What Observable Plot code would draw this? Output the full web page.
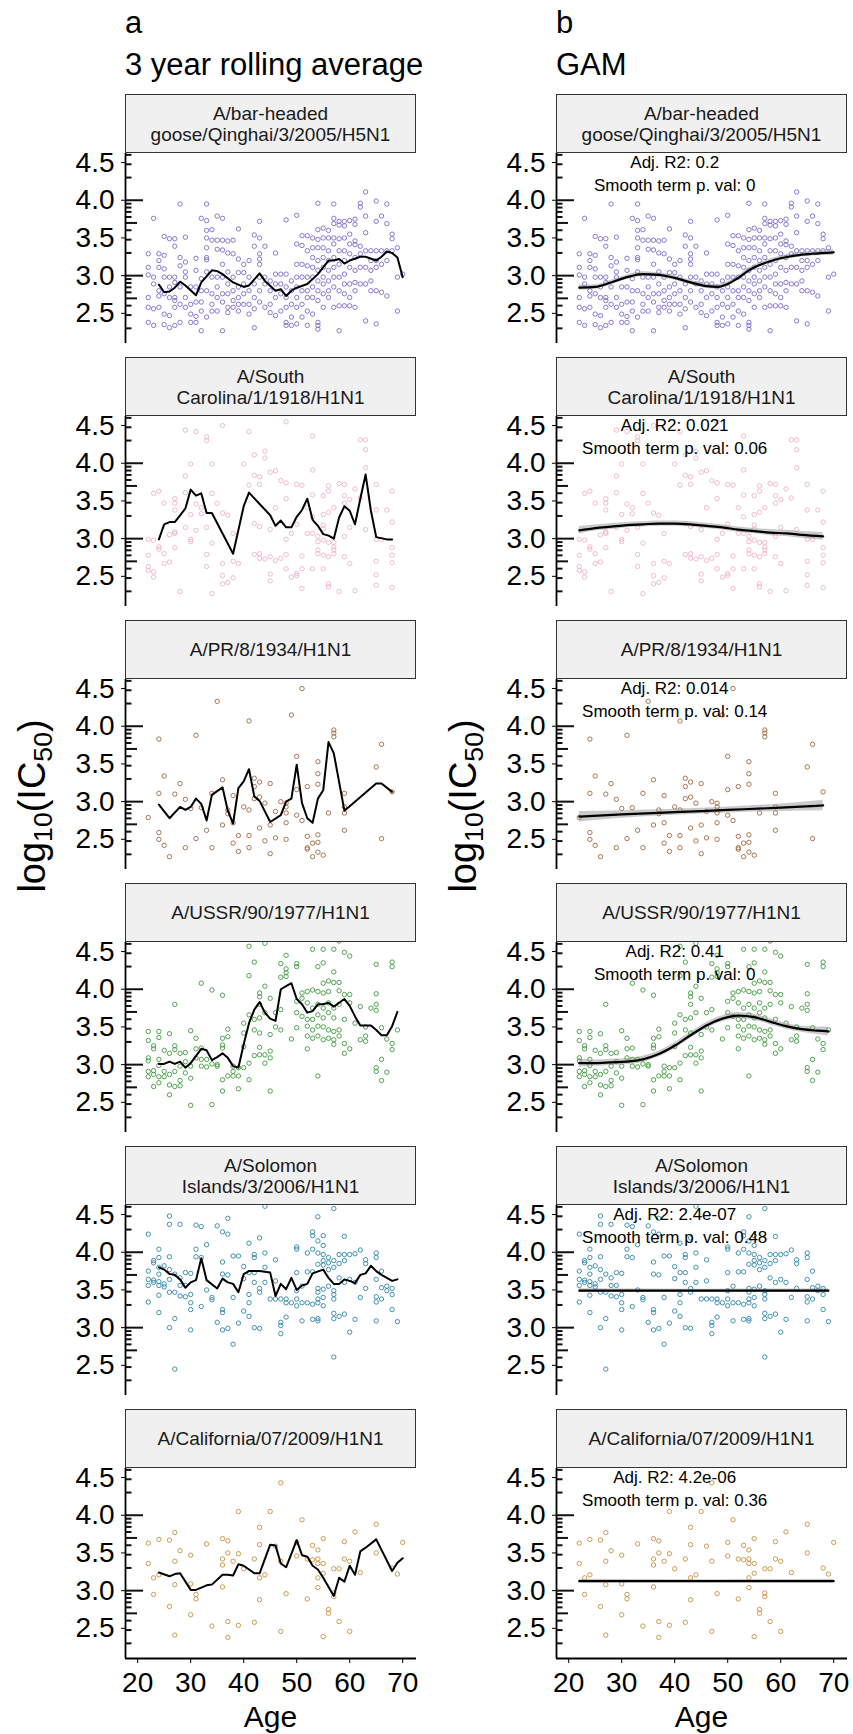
<!DOCTYPE html>
<html><head><meta charset="utf-8">
<script src="https://cdn.jsdelivr.net/npm/d3@7"></script>
<script src="https://cdn.jsdelivr.net/npm/@observablehq/plot@0.6"></script>
<style>
html,body{margin:0;padding:0;background:#fff;}
#root{position:relative;width:853px;height:1734px;overflow:hidden;font-family:"Liberation Sans",Arial,sans-serif;color:#000;background:#fff;}
.abs{position:absolute;white-space:nowrap;line-height:1;}
.strip{position:absolute;box-sizing:border-box;background:#f0f0f0;border:1.5px solid #333;display:flex;align-items:center;justify-content:center;text-align:center;font-size:19px;line-height:21px;color:#1a1a1a;white-space:pre;}
</style></head><body><div id="root"></div>
<script>
// ---------------- data ----------------
const columnLetters = ["a", "b"];
const columnTitles = ["3 year rolling average", "GAM"];
const strains = [
  "A/bar-headed\ngoose/Qinghai/3/2005/H5N1",
  "A/South\nCarolina/1/1918/H1N1",
  "A/PR/8/1934/H1N1",
  "A/USSR/90/1977/H1N1",
  "A/Solomon\nIslands/3/2006/H1N1",
  "A/California/07/2009/H1N1"
];
const xTicks = [20, 30, 40, 50, 60, 70];
const yTicks = [2.5, 3.0, 3.5, 4.0, 4.5];
const xLabel = "Age";

// points: [age, [log10 IC50 values]]
const h5n1Pts = [
[22,[3.29,3.11,3.01,2.71,2.58,2.38]],[23,[3.76,2.98,2.89,2.56,2.34]],[24,[3.29,3.20,3.11,2.80,2.73,2.58]],
[25,[3.52,3.27,3.09,2.98,2.76,2.49,2.35]],[26,[3.49,2.98,2.85,2.71,2.47,2.31]],[27,[3.49,3.39,2.98,2.91,2.71,2.67,2.58,2.34]],
[28,[3.95,3.24,3.13,2.85,2.62,2.38]],[29,[3.51,3.18,3.05,2.98,2.71,2.58]],[30,[2.85,2.62,2.49,2.38]],
[31,[3.23,3.07,2.85,2.65,2.46,2.38]],[32,[3.76,2.96,2.80,2.65,2.53,2.27]],[33,[3.95,3.73,3.60,3.50,3.37,3.24,3.21,3.05,2.80,2.45]],
[34,[3.61,3.47,2.98,2.76,2.62,2.53]],[35,[3.79,3.47,3.35,2.98,2.85,2.71,2.53]],[36,[3.76,3.47,3.34,3.15,2.98,2.76,2.65,2.27]],
[37,[3.46,3.30,3.05,2.89,2.76,2.58,2.51]],[38,[3.47,3.29,2.98,2.80,2.67,2.58]],[39,[3.62,3.22,3.04,2.85,2.71,2.62,2.53]],
[40,[3.15,3.04,2.89,2.76,2.62]],[41,[3.20,2.98,2.80,2.62,2.49]],[42,[3.54,3.39,2.89,2.71,2.56,2.31]],
[43,[3.72,3.50,3.29,3.22,3.15,2.98,2.80,2.65]],[44,[3.39,2.98,2.89,2.58]],[45,[2.93,2.80,2.62,2.51]],
[46,[3.30,3.02,2.89,2.71,2.47]],[47,[3.02,2.89,2.76,2.53]],[48,[3.74,3.02,2.85,2.71,2.58,2.38,2.34]],
[49,[2.93,2.80,2.62,2.45,2.34]],[50,[3.80,3.42,3.15,2.98,2.85,2.71,2.58,2.36]],[51,[3.53,3.40,3.15,2.98,2.80,2.62,2.45]],
[52,[3.53,3.33,3.13,2.98,2.80,2.71,2.53,2.34]],[53,[3.50,3.37,3.24,3.11,2.98,2.85,2.71,2.49]],
[54,[3.96,3.61,3.48,3.37,3.20,3.07,2.93,2.80,2.67,2.38,2.34,2.29]],[55,[3.63,3.50,3.37,3.24,3.11,2.98,2.89,2.76,2.58]],
[56,[3.60,3.50,3.33,3.20,3.07,2.93,2.80,2.71]],[57,[3.95,3.76,3.69,3.50,3.42,3.24,3.11,2.98,2.85,2.58]],
[58,[3.72,3.67,3.49,3.33,3.15,2.98,2.80,2.60,2.27]],[59,[3.72,3.66,3.50,3.33,3.20,3.02,2.89,2.76,2.60]],
[60,[3.73,3.55,3.42,3.29,3.11,2.89,2.71,2.60]],[61,[3.75,3.68,3.46,3.41,3.24,3.07,2.91,2.80,2.58]],
[62,[3.96,3.91,3.39,3.29,3.11,2.89]],[63,[4.11,3.79,3.57,3.33,3.11,2.89,2.40]],[64,[3.33,3.20,3.07,2.93,2.80]],
[65,[3.99,3.72,3.33,3.20,3.11,2.80,2.36]],[66,[3.79,3.33,3.15,2.78]],[67,[3.95,3.69,3.33,3.20,2.73]],
[68,[3.55,3.49,3.33]],[69,[3.37,2.98,2.53]],[70,[3.02]]
];
const sc1918Pts = [
[22,[2.99,2.78,2.63,2.58]],[23,[3.60,2.98,2.56,2.49]],[24,[3.63,2.89,2.86]],[25,[3.47,2.80,2.67]],[26,[3.05,2.69]],
[27,[3.53,3.47,3.38,3.09,3.07,2.88]],[28,[2.30]],[29,[4.44,3.83,3.61,3.15]],[30,[3.99,3.32,2.99,2.96]],[31,[4.42,3.46,3.11]],
[32,[3.41,3.33]],[33,[4.35,4.30,3.15,2.79,2.63]],[34,[3.99,3.60,2.94,2.27]],[35,[3.47]],[36,[4.50,3.34,2.67,2.51,2.40]],
[37,[3.31,2.42]],[38,[3.07,2.70,2.48]],[39,[2.67]],[40,[3.99]],[41,[4.42,3.71]],[42,[4.11,3.84,3.20,2.79]],
[43,[3.82,3.72,3.16,2.80,2.74]],[44,[4.16,4.07,2.73]],[45,[3.88,3.12,2.76,2.53,2.44]],[46,[3.90,3.41,2.71]],[47,[3.77,2.74]],
[48,[4.55,3.74,3.53,2.99,2.79,2.60]],[49,[3.07,2.49]],[50,[3.72,3.19,2.54,2.51]],[51,[3.71,2.77,2.60,2.34]],[52,[3.41,3.07]],
[53,[4.36,3.91,3.58,3.29,3.07,2.60]],[54,[3.03,2.96,2.85,2.80]],[55,[3.57,3.32,3.18,3.13,2.98,2.78,2.60]],
[56,[3.70,3.63,3.35,2.95,2.76,2.40,2.36]],[57,[3.41,2.95,2.89,2.85,2.80]],[58,[3.73,2.30]],[59,[3.72,3.57,3.47,3.03,2.76]],
[60,[3.52,3.15,2.67]],[61,[3.66,2.31]],[62,[4.31,3.54]],[63,[4.31,4.18,3.94,3.12]],[65,[3.72,3.38,2.99,2.70,2.52,2.38]],
[66,[2.99]],[67,[3.38]],[68,[3.63,3.22,2.88,2.78,2.68,2.35]]
];
const pr8Pts = [
[22,[2.79]],[24,[3.83,3.11,2.59,2.50]],[25,[3.34,2.42]],[26,[2.27]],[27,[3.10]],[28,[3.24]],[29,[3.03,2.39]],[30,[2.91]],
[31,[3.88,2.51]],[32,[2.92]],[33,[2.62]],[34,[3.11,2.39]],[35,[4.33]],[36,[3.29,2.69]],[37,[2.89,2.84]],[38,[3.08,2.72,2.45]],
[39,[2.55,2.34]],[40,[2.93]],[41,[4.07,2.89,2.55,2.39]],[42,[3.31,3.20,3.04]],[43,[3.26,3.06,2.65]],[44,[2.98,2.48]],
[45,[3.24,2.69,2.31]],[46,[2.87,2.52]],[47,[3.00]],[48,[2.98,2.93,2.85,2.72,2.50]],[49,[4.15]],[50,[3.60,3.16,2.82]],
[51,[4.50,2.75]],[52,[3.20,2.54,2.39,2.37]],[53,[2.45,2.27]],[54,[3.53,3.37,3.23,2.56,2.46,2.33]],[55,[2.29]],[56,[2.85]],
[57,[3.95,3.91,3.86]],[59,[3.11,2.93,2.85,2.62]],[65,[3.46]],[66,[3.76,2.51]],[68,[3.13]]
];
const ussrPts = [
[22,[3.44,3.32,3.09,3.05,2.91,2.84]],[23,[3.25,3.21,2.92,2.87,2.71]],[24,[3.44,3.36,3.07,2.99,2.84,2.76]],[25,[3.19,2.91,2.84]],
[26,[3.41,3.15,2.87,2.73,2.60]],[27,[3.80,3.25,3.20,2.91,2.71]],[28,[3.15,2.98,2.79,2.72]],[29,[3.16,3.04,2.89]],
[30,[3.45,2.98,2.82,2.46]],[31,[3.35,3.21,3.09]],[32,[4.08,3.22,3.07,2.98]],[33,[3.07,2.97]],[34,[3.99,3.01,2.47]],
[35,[3.00,2.98]],[36,[3.92,3.35,3.26,3.22,2.80,2.65]],[37,[3.47,3.37,2.85]],[38,[2.98,2.91,2.85]],[39,[2.96,2.85,2.68]],
[40,[3.55,3.42,3.24,2.96]],[41,[4.57,4.18,3.66,3.02,2.80]],[42,[4.36,3.60,3.46,3.12]],[43,[3.95,3.90,3.80,3.62,3.42,3.23,3.13]],
[44,[4.61,4.04,3.69,3.13,3.02]],[45,[3.88,3.40,3.18,3.09,2.65]],[46,[3.69,3.50]],[47,[4.34,4.16,3.73,3.46]],
[48,[4.45,4.27,4.22,4.17]],[49,[3.34]],[50,[4.34,4.30,3.84,3.69,3.49]],[51,[3.95,3.88,3.64]],[52,[3.97,3.82,3.60,3.51,3.38,3.21]],
[53,[4.53,3.99,3.75,3.60,3.46,3.35]],[54,[4.30,3.97,3.80,3.66,3.51,3.38,2.85]],[55,[4.53,4.35,4.08,3.95,3.75,3.62,3.50,3.33]],
[56,[4.11,3.97,3.82,3.69,3.46,3.35]],[57,[4.53,4.23,4.09,3.75,3.62,3.44,3.33,3.27]],[58,[4.64,4.09,3.98,3.80,3.46,3.38]],
[59,[4.49,3.93,3.60,3.28,3.15]],[60,[4.44,3.93,3.82,3.21]],[61,[3.55]],[62,[3.77,3.33]],[63,[3.50,3.38,3.31]],[64,[3.75]],
[65,[4.33,3.94,3.80,3.72,2.96,2.91]],[66,[3.49,3.07,2.79]],[67,[3.34,2.90]],[68,[4.36,4.30,3.28,3.20]],[69,[3.46]]
];
const solomonPts = [
[22,[4.24,3.75,3.64,3.56,3.34]],[23,[3.89,3.86,3.63,3.60]],[24,[4.04,3.93,3.80,3.71,3.61,3.56,3.43,3.20]],[25,[3.82,3.58,3.54]],
[26,[4.48,4.37,3.94,3.77,3.64,3.47,3.00]],[27,[3.71,3.47,3.12,2.45]],[28,[4.37,3.66,3.56,3.42]],[29,[3.73,3.56,3.41]],
[30,[3.72,3.44,3.33,3.24,2.97]],[31,[4.36,4.04,3.94]],[32,[4.34,3.93,3.28]],[33,[4.10,3.50]],[34,[3.40,3.37]],[35,[4.35,3.07]],
[36,[4.27,3.87,3.71,3.24,3.20,2.97]],[37,[4.45,4.24,3.70,2.99]],[38,[3.95,3.40,2.78]],[39,[3.95,3.06]],[40,[3.81,3.65,3.22]],
[41,[4.12,3.73,3.44,3.33,3.15]],[42,[3.97,3.93,3.73,3.60,3.00]],[43,[4.19,3.52,3.47,2.99]],[44,[4.61,3.99,3.80,3.60]],
[45,[3.38]],[46,[3.90,3.62,3.38]],[47,[3.38,3.07,3.03,2.92]],[48,[3.38,3.33,3.14]],[49,[3.33]],[50,[4.07,4.04,3.73,3.49,3.38,3.29]],
[51,[3.55,3.33,3.09]],[52,[3.99,3.74,3.33]],[53,[4.27,4.22,4.04,3.74,3.31,3.11]],[54,[4.47,4.15,3.99,3.84,3.52,3.47,3.38,3.33,3.12,3.09]],
[55,[4.22,4.09,3.97,3.89,3.83,3.51,3.40,3.29]],[56,[3.93,3.86,3.77,3.55]],[57,[4.58,3.89,3.80,3.49,3.44,3.38,3.19,3.12,2.61]],
[58,[3.97,3.85,3.66,3.15]],[59,[4.21,3.97,3.89,3.60,3.18]],[60,[3.97,3.64,2.94]],[61,[3.98,3.60,3.11]],[62,[4.03,3.40]],
[63,[3.90,3.85,3.52]],[65,[3.99,3.93,3.64,3.41,3.34,3.09]],[66,[3.75,3.53,3.38]],[67,[3.55,3.49]],[68,[3.52,3.44,3.24]],[69,[3.08]]
];
const californiaPts = [
[22,[3.63,3.36]],[23,[3.17,2.95]],[24,[3.68,3.21]],[26,[3.67,2.79]],[27,[3.77,3.39,3.08,2.41]],[28,[3.53]],[30,[3.47,3.09,2.68]],
[31,[2.95,2.89]],[33,[3.62]],[34,[2.53]],[36,[3.69,3.42,3.34,3.05]],[37,[3.66,3.50,2.59,2.38]],[38,[3.39]],[39,[4.05,3.49,2.54]],
[40,[3.29]],[42,[3.42,2.58]],[43,[3.84,3.61,3.17,2.88]],[44,[3.21]],[45,[4.05]],[46,[3.59]],[47,[4.43,3.39,2.46]],[48,[2.96]],
[50,[3.64,3.46]],[51,[3.94]],[52,[3.42,2.89]],[53,[3.60,3.41]],[54,[3.54,3.42,3.36,3.17,3.04]],[55,[3.69,3.36,3.23,2.39]],
[56,[2.75,2.70]],[57,[3.29,2.97,2.92]],[58,[3.29,2.59]],[59,[3.65,3.42]],[60,[3.39,2.46]],[61,[3.78]],[62,[3.24]],
[65,[3.88,3.50]],[68,[3.30]],[69,[3.22]],[70,[3.64]]
];

// 3 year rolling averages: [age, value]
const h5n1Roll = [[24,2.88],[25,2.78],[26,2.79],[27,2.84],[28,2.92],[29,2.87],[31,2.74],[32,2.91],[34,3.07],[35,3.06],[36,3.02],[38,2.91],[40,2.85],[41,2.87],[43,3.03],[44,2.93],[46,2.80],[47,2.82],[48,2.73],[49,2.80],[50,2.84],[52,2.89],[54,3.02],[55,3.11],[56,3.20],[57,3.20],[58,3.22],[59,3.16],[60,3.20],[62,3.25],[63,3.25],[65,3.20],[66,3.25],[67,3.32],[68,3.30],[69,3.24],[70,2.98]];
const sc1918Roll = [[24,2.99],[25,3.19],[26,3.22],[27,3.22],[28,3.31],[29,3.40],[30,3.65],[31,3.57],[32,3.60],[33,3.34],[34,3.34],[38,2.80],[40,3.43],[41,3.61],[43,3.46],[45,3.31],[46,3.17],[47,3.24],[48,3.15],[49,3.15],[50,3.29],[51,3.38],[52,3.53],[53,3.25],[54,3.17],[55,3.06],[56,3.04],[57,3.00],[58,3.28],[59,3.43],[60,3.37],[61,3.19],[62,3.53],[63,3.85],[64,3.37],[65,3.02],[67,2.99],[68,2.99]];
const pr8Roll = [[24,2.96],[26,2.78],[28,2.93],[29,2.89],[30,2.93],[31,3.04],[32,2.97],[33,2.75],[34,3.09],[36,3.19],[37,2.88],[38,2.71],[39,3.18],[40,3.27],[41,3.43],[42,3.07],[43,3.01],[45,2.73],[47,2.82],[48,3.00],[49,3.04],[50,3.49],[51,2.98],[52,2.78],[53,2.72],[54,3.04],[55,3.15],[56,3.79],[57,3.64],[59,2.88],[65,3.24],[66,3.24],[68,3.13]];
const ussrRoll = [[24,3.01],[25,3.01],[26,3.04],[27,3.01],[28,3.04],[29,2.96],[30,3.02],[32,3.21],[33,3.19],[34,3.06],[35,3.10],[36,3.15],[37,3.09],[38,2.98],[39,2.96],[40,3.27],[41,3.55],[42,3.73],[43,3.83],[44,3.69],[45,3.61],[46,3.58],[47,4.00],[48,4.04],[49,4.08],[50,3.87],[51,3.80],[52,3.69],[53,3.71],[54,3.80],[55,3.80],[56,3.82],[57,3.77],[59,3.87],[60,3.78],[61,3.64],[62,3.52],[64,3.52],[65,3.46],[66,3.39],[67,3.39],[68,3.51],[69,3.70]];
const solomonRoll = [[24,3.80],[25,3.77],[26,3.71],[27,3.70],[28,3.64],[29,3.53],[30,3.60],[31,3.63],[32,3.92],[33,3.63],[35,3.52],[36,3.65],[37,3.60],[38,3.58],[39,3.47],[40,3.71],[41,3.75],[43,3.75],[45,3.73],[46,3.42],[47,3.58],[48,3.51],[49,3.66],[50,3.50],[51,3.56],[52,3.58],[53,3.72],[55,3.77],[56,3.66],[57,3.58],[58,3.58],[59,3.64],[60,3.62],[61,3.59],[62,3.70],[63,3.72],[64,3.82],[65,3.75],[66,3.70],[67,3.66],[68,3.62],[69,3.64]];
const californiaRoll = [[24,3.24],[26,3.19],[27,3.22],[28,3.23],[30,3.01],[31,3.01],[33,3.07],[34,3.08],[36,3.21],[37,3.21],[38,3.20],[39,3.35],[40,3.33],[42,3.23],[43,3.23],[45,3.61],[46,3.60],[47,3.36],[48,3.31],[50,3.67],[51,3.47],[52,3.45],[53,3.33],[54,3.28],[55,3.17],[57,2.93],[58,3.17],[59,3.12],[60,3.33],[61,3.21],[62,3.52],[63,3.57],[65,3.68],[68,3.26],[69,3.37],[70,3.43]];

// GAM fits: [age, fit, standard error]
const h5n1Gam = [[22,2.84,0.035],[25,2.85,0.03],[28,2.91,0.03],[31,2.98,0.03],[34,3.02,0.03],[37,3.01,0.03],[40,2.97,0.03],[43,2.91,0.03],[46,2.86,0.03],[48,2.85,0.03],[50,2.89,0.03],[52,2.97,0.03],[54,3.07,0.03],[56,3.14,0.03],[58,3.19,0.03],[60,3.23,0.03],[63,3.27,0.03],[66,3.29,0.03],[70,3.31,0.04]];
const sc1918Gam = [[22,3.11,0.05],[25,3.14,0.04],[28,3.16,0.04],[31,3.18,0.035],[34,3.19,0.035],[37,3.20,0.035],[40,3.20,0.035],[43,3.19,0.035],[46,3.17,0.035],[49,3.15,0.035],[52,3.12,0.035],[55,3.10,0.035],[58,3.08,0.04],[61,3.07,0.04],[64,3.05,0.045],[68,3.03,0.05]];
const pr8Gam = [[22,2.80,0.07],[30,2.83,0.05],[40,2.86,0.04],[50,2.89,0.04],[60,2.92,0.05],[68,2.95,0.07]];
const ussrGam = [[22,3.02,0.05],[25,3.02,0.04],[28,3.03,0.04],[31,3.04,0.04],[34,3.07,0.04],[37,3.14,0.04],[40,3.25,0.04],[43,3.39,0.04],[46,3.52,0.04],[49,3.61,0.04],[52,3.65,0.04],[55,3.63,0.04],[58,3.57,0.04],[61,3.51,0.04],[64,3.47,0.04],[67,3.45,0.05],[69,3.44,0.06]];
const solomonGam = [[22,3.49,0.025],[46,3.49,0.02],[69,3.49,0.025]];
const californiaGam = [[22,3.125,0.025],[46,3.125,0.02],[70,3.125,0.025]];

const adjR2 = ["0.2", "0.021", "0.014", "0.41", "2.4e-07", "4.2e-06"];
const smoothP = ["0", "0.06", "0.14", "0", "0.48", "0.36"];

// ---------------- styles / layout ----------------
const colors = ["#7a6bcc", "#eeb3c6", "#a4673f", "#3e9a3c", "#2e86aa", "#c98f3e"];
const pointSets = [h5n1Pts, sc1918Pts, pr8Pts, ussrPts, solomonPts, californiaPts];
const rolls = [h5n1Roll, sc1918Roll, pr8Roll, ussrRoll, solomonRoll, californiaRoll];
const gams = [h5n1Gam, sc1918Gam, pr8Gam, ussrGam, solomonGam, californiaGam];

const xDom = [17.7, 72.6], yDom = [2.1, 4.62];
const PW = 291, PH = 190;
const colLeft = [125, 556];
const stripTop0 = 94, pitch = 263, stripH = 59;
const ML = 90, MR = 12, MBOT = 44;

// annotation_logticks style positions (inside the panel, left side)
const decades = [2, 3, 4];
const inDom = v => v >= yDom[0] && v <= yDom[1];
const logLong = decades.filter(inDom);
const logMid = decades.map(e => e + Math.log10(5)).filter(inDom);
const logShort = decades.flatMap(e => [2, 3, 4, 6, 7, 8, 9].map(m => e + Math.log10(m))).filter(inDom);
// inward ticks: rules spanning only the first `len` px of the frame
const logRule = (vals, len) => Plot.ruleY(vals, {y: d => d, insetRight: PW - len, stroke: "#111", strokeWidth: 2});

const root = document.getElementById("root");
function addText(txt, left, top, size, extra = "") {
  const d = document.createElement("div");
  d.className = "abs";
  d.style.cssText += `left:${left}px;top:${top}px;font-size:${size}px;${extra}`;
  d.innerHTML = txt;
  root.appendChild(d);
  return d;
}

for (let col = 0; col < 2; col++) {
  addText(columnLetters[col], colLeft[col], 33 - 0.846 * 31, 31);
  addText(columnTitles[col], colLeft[col], 75 - 0.846 * 31, 31);
  for (let k = 0; k < 6; k++) {
    const bottom = k === 5;
    const mB = bottom ? MBOT : 0;
    const pts = pointSets[k].flatMap(([a, vs]) => vs.map(v => ({age: a, v})));
    const marks = [
      logRule(logLong, 18), logRule(logMid, 12), logRule(logShort, 6.5),
      Plot.dot(pts, {x: "age", y: "v", r: 2.2, stroke: colors[k], strokeWidth: 0.9, fill: "none"})
    ];
    if (col === 0) {
      marks.push(Plot.line(rolls[k], {x: d => d[0], y: d => d[1], stroke: "#000", strokeWidth: 2}));
    } else {
      marks.push(
        Plot.areaY(gams[k], {x: d => d[0], y1: d => d[1] - d[2], y2: d => d[1] + d[2], fill: "#8a8a8a", fillOpacity: 0.45, curve: "monotone-x"}),
        Plot.line(gams[k], {x: d => d[0], y: d => d[1], stroke: "#000", strokeWidth: 2.2, curve: "monotone-x"}),
        Plot.text([`Adj. R2: ${adjR2[k]}`], {x: 40, y: 4.5, text: d => d, fontSize: 17, fill: "#000"}),
        Plot.text([`Smooth term p. val: ${smoothP[k]}`], {x: 40, y: 4.2, text: d => d, fontSize: 17, fill: "#000"})
      );
    }
    marks.push(Plot.ruleX([xDom[0]], {stroke: "#000", strokeWidth: 1.8}));
    if (bottom) marks.push(Plot.ruleY([yDom[0]], {stroke: "#000", strokeWidth: 1.8}));
    const svg = Plot.plot({
      width: ML + PW + MR, height: PH + mB,
      marginLeft: ML, marginRight: MR, marginTop: 0, marginBottom: mB,
      style: {background: "transparent", overflow: "visible", fontFamily: "'Liberation Sans', Arial, sans-serif", fontSize: "28px", color: "#000"},
      x: {domain: xDom, axis: bottom ? "bottom" : null, ticks: xTicks, tickSize: 5, tickPadding: 9, label: null, tickFormat: d => String(d)},
      y: {domain: yDom, ticks: yTicks, tickSize: 4, tickPadding: 7, label: null, tickFormat: d => d.toFixed(1)},
      marks
    });
    const holder = document.createElement("div");
    holder.style.cssText = `position:absolute;left:${colLeft[col] - ML}px;top:${stripTop0 + pitch * k + stripH}px;width:${ML + PW + MR}px;height:${PH + mB}px;`;
    holder.appendChild(svg);
    root.appendChild(holder);
  }
}
// strips on top
for (let col = 0; col < 2; col++) {
  for (let k = 0; k < 6; k++) {
    const s = document.createElement("div");
    s.className = "strip";
    s.style.left = colLeft[col] + "px";
    s.style.top = (stripTop0 + pitch * k) + "px";
    s.style.width = PW + "px";
    s.style.height = stripH + "px";
    s.textContent = strains[k];
    root.appendChild(s);
  }
  addText(xLabel, colLeft[col] + PW / 2, 1727 - 0.846 * 30, 30, "transform:translateX(-50%);");
  addText("log<sub style='font-size:0.7em;vertical-align:-0.25em'>10</sub>(IC<sub style='font-size:0.7em;vertical-align:-0.25em'>50</sub>)",
    colLeft[col] - 90, 806, 38, "transform:translate(-50%,-50%) rotate(-90deg);");
}
</script></body></html>
